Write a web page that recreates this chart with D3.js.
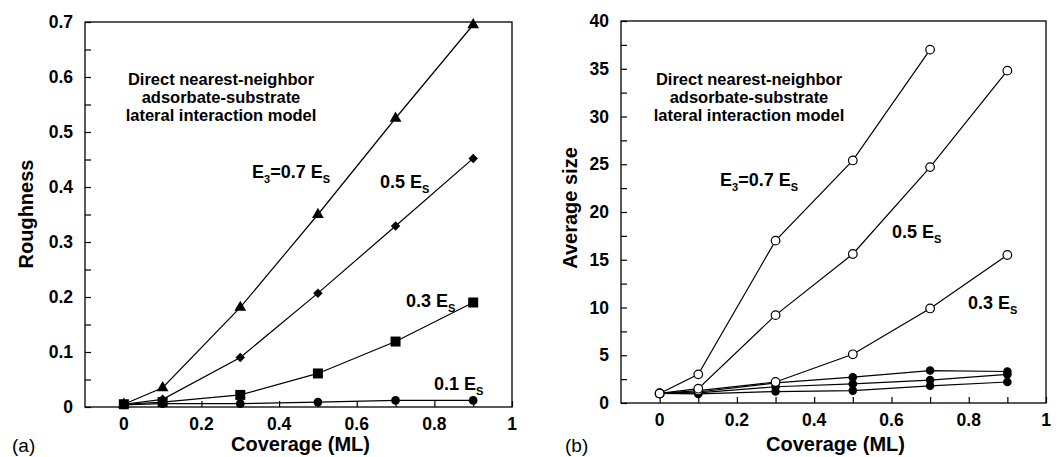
<!doctype html>
<html>
<head>
<meta charset="utf-8">
<script src="https://d3js.org/d3.v7.min.js"></script>
<style>
  body { margin: 0; background: #fff; }
  text { font-family: 'Liberation Sans', Arial, sans-serif; fill: #000; }
  .tick-label { font-size: 17.5px; font-weight: bold; }
  .title { font-size: 20px; font-weight: bold; }
  .note { font-size: 16.5px; font-weight: bold; }
  .lab { font-size: 18px; font-weight: bold; }
  .panel { font-size: 19px; }
</style>
</head>
<body>
<svg id="chart" width="1058" height="457"></svg>
<script>
// coverage values (ML)
var coverage = [0, 0.1, 0.3, 0.5, 0.7, 0.9];

// (a) roughness
var rough07 = [0.005, 0.035, 0.181, 0.350, 0.525, 0.695];
var rough05 = [0.005, 0.014, 0.090, 0.207, 0.329, 0.452];
var rough03 = [0.005, 0.009, 0.022, 0.061, 0.119, 0.190];
var rough01 = [0.004, 0.006, 0.006, 0.009, 0.012, 0.012];

// (b) average size
var coverage07 = [0, 0.1, 0.3, 0.5, 0.7];
var size07 = [1.0, 3.0, 17.0, 25.4, 37.0];
var size05 = [1.0, 1.5, 9.2, 15.6, 24.7, 34.8];
var size03 = [1.0, 1.3, 2.2, 5.1, 9.9, 15.5];
var sizeA = [1.0, 1.15, 2.1, 2.7, 3.4, 3.3];
var sizeB = [1.0, 1.05, 1.7, 2.0, 2.4, 3.0];
var sizeC = [1.0, 0.95, 1.2, 1.3, 1.8, 2.2];

var xTicks = [0, 0.2, 0.4, 0.6, 0.8, 1];
var xTickLabels = ["0", "0.2", "0.4", "0.6", "0.8", "1"];
var roughTicks = [0, 0.1, 0.2, 0.3, 0.4, 0.5, 0.6, 0.7];
var sizeTicks = [0, 5, 10, 15, 20, 25, 30, 35, 40];

var svg = d3.select("#chart");

function panel(opt) {
  var x = d3.scaleLinear().domain([-0.1, 1]).range([opt.left, opt.right]);
  var y = d3.scaleLinear().domain(opt.yDomain).range([opt.bottom, opt.top]);
  var g = svg.append("g");

  // frame
  g.append("rect")
    .attr("x", opt.left).attr("y", opt.top)
    .attr("width", opt.right - opt.left).attr("height", opt.bottom - opt.top)
    .attr("fill", "none").attr("stroke", "#000").attr("stroke-width", 1.3);

  // x axis ticks (inward)
  var xa = d3.axisBottom(x).tickValues(d3.range(0, 1.01, 0.1)).tickSize(-6).tickFormat("");
  g.append("g").attr("transform", "translate(0," + opt.bottom + ")").call(xa)
    .call(s => s.select(".domain").remove())
    .selectAll("line").attr("stroke-width", 1.2);
  g.selectAll(".xl").data(xTicks).enter().append("text")
    .attr("class", "tick-label")
    .attr("x", d => x(d)).attr("y", opt.bottom + 23)
    .attr("text-anchor", "middle")
    .text((d, i) => xTickLabels[i]);

  // y axis ticks (inward)
  var ya = d3.axisLeft(y).tickValues(d3.range(opt.yDomain[0], opt.yDomain[1] + 1e-9, opt.minor)).tickSize(-6).tickFormat("");
  g.append("g").attr("transform", "translate(" + opt.left + ",0)").call(ya)
    .call(s => s.select(".domain").remove())
    .selectAll("line").attr("stroke-width", 1.2);
  g.selectAll(".yl").data(opt.yTicks).enter().append("text")
    .attr("class", "tick-label")
    .attr("x", opt.left - 12).attr("y", d => y(d) + 6)
    .attr("text-anchor", "end")
    .text(d => d);

  // titles
  g.append("text").attr("class", "title")
    .attr("x", (opt.left + opt.right) / 2 + 2).attr("y", 451)
    .attr("text-anchor", "middle").text("Coverage (ML)");
  g.append("text").attr("class", "title")
    .attr("transform", "translate(" + opt.ytx + "," + opt.yty + ") rotate(-90)")
    .attr("text-anchor", "middle").text(opt.yTitle);
  g.append("text").attr("class", "panel")
    .attr("x", opt.panelX).attr("y", 452).text(opt.panelLabel);

  // note
  var note = ["Direct nearest-neighbor", "adsorbate-substrate", "lateral interaction model"];
  g.selectAll(".note").data(note).enter().append("text")
    .attr("class", "note")
    .attr("x", opt.noteX).attr("y", (d, i) => 85 + i * 18)
    .attr("text-anchor", "middle").text(d => d);

  return {g: g, x: x, y: y};
}

function series(p, xs, ys, marker) {
  var line = d3.line().x((d, i) => p.x(xs[i])).y(d => p.y(d));
  p.g.append("path").datum(ys).attr("d", line)
    .attr("fill", "none").attr("stroke", "#000").attr("stroke-width", 1.2);
  var pts = ys.map((d, i) => [p.x(xs[i]), p.y(d)]);
  if (marker === "open") {
    p.g.selectAll(null).data(pts).enter().append("circle")
      .attr("cx", d => d[0]).attr("cy", d => d[1]).attr("r", 4.3)
      .attr("fill", "#fff").attr("stroke", "#000").attr("stroke-width", 1.2);
  } else if (marker === "dot") {
    p.g.selectAll(null).data(pts).enter().append("circle")
      .attr("cx", d => d[0]).attr("cy", d => d[1]).attr("r", 4.3)
      .attr("fill", "#000");
  } else {
    // diamond = square turned 45 degrees
    var sym = {tri: d3.symbolTriangle, dia: d3.symbolSquare, sq: d3.symbolSquare, circ: d3.symbolCircle}[marker];
    var size = {tri: 60, dia: 45, sq: 100, circ: 60}[marker];
    var rot = marker === "dia" ? " rotate(45)" : "";
    p.g.selectAll(null).data(pts).enter().append("path")
      .attr("transform", d => "translate(" + d[0] + "," + d[1] + ")" + rot)
      .attr("d", d3.symbol().type(sym).size(size)).attr("fill", "#000");
  }
}

function label(g, x, y, pre, sub1, mid, sub2) {
  var t = g.append("text").attr("class", "lab").attr("x", x).attr("y", y);
  if (sub1) {
    t.append("tspan").text(pre);
    t.append("tspan").attr("dy", 5).style("font-size", "11px").text(sub1);
    t.append("tspan").attr("dy", -5).text(mid);
  } else {
    t.append("tspan").text(pre + mid);
  }
  t.append("tspan").attr("dy", 5).style("font-size", "11px").text(sub2);
}

// panel (a)
var pa = panel({left: 85, right: 512, top: 22, bottom: 407, yDomain: [0, 0.7], minor: 0.05,
  yTicks: roughTicks, yTitle: "Roughness", ytx: 33, yty: 214, noteX: 221, panelX: 12, panelLabel: "(a)"});
series(pa, coverage, rough01, "circ");
series(pa, coverage, rough03, "sq");
series(pa, coverage, rough05, "dia");
series(pa, coverage, rough07, "tri");
label(pa.g, 252, 178, "E", "3", "=0.7 E", "S");
label(pa.g, 380, 188, "", "", "0.5 E", "S");
label(pa.g, 406, 307, "", "", "0.3 E", "S");
label(pa.g, 434, 390, "", "", "0.1 E", "S");

// panel (b)
var pb = panel({left: 621, right: 1046, top: 21, bottom: 403, yDomain: [0, 40], minor: 2.5,
  yTicks: sizeTicks, yTitle: "Average size", ytx: 577, yty: 208, noteX: 749, panelX: 565, panelLabel: "(b)"});
series(pb, coverage, sizeC, "dot");
series(pb, coverage, sizeB, "dot");
series(pb, coverage, sizeA, "dot");
series(pb, coverage, size03, "open");
series(pb, coverage, size05, "open");
series(pb, coverage07, size07, "open");
label(pb.g, 720, 186, "E", "3", "=0.7 E", "S");
label(pb.g, 892, 238, "", "", "0.5 E", "S");
label(pb.g, 968, 309, "", "", "0.3 E", "S");
</script>
</body>
</html>
